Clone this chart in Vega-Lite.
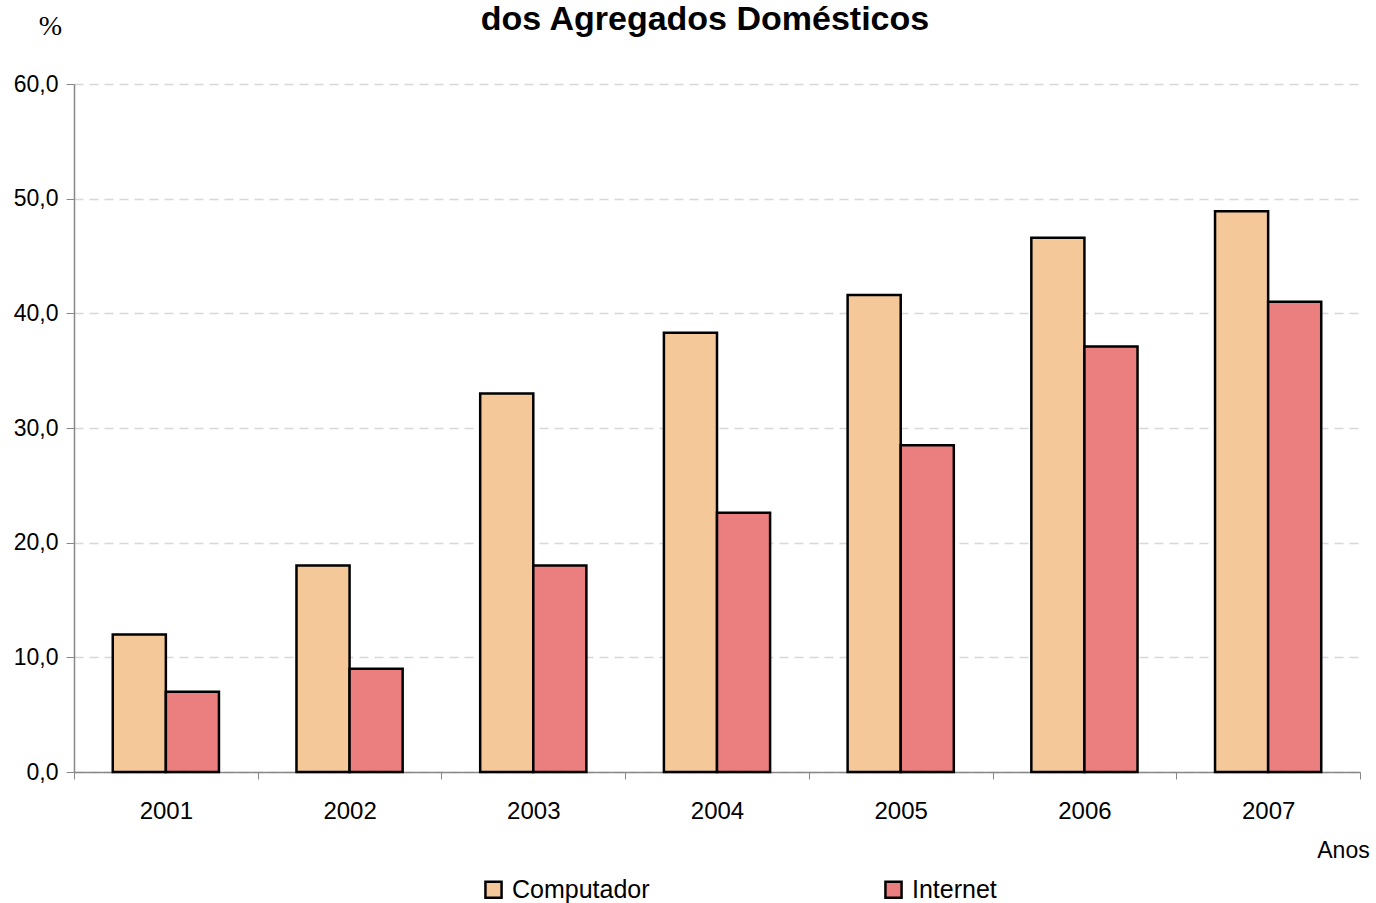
{
  "$schema": "https://vega.github.io/schema/vega-lite/v6.json",
  "autosize": {"type": "none"},
  "width": 1286,
  "height": 688,
  "padding": {"left": 74, "top": 84, "right": 16, "bottom": 131},
  "background": "white",
  "title": {
    "text": "dos Agregados Domésticos",
    "font": "Liberation Sans",
    "fontSize": 34,
    "fontWeight": "bold",
    "color": "#000000",
    "anchor": "middle",
    "baseline": "alphabetic",
    "offset": 0,
    "dy": 52,
    "dx": -12
  },
  "data": {
    "values": [
      {"ano": "2001", "serie": "Computador", "valor": 12.0},
      {"ano": "2001", "serie": "Internet", "valor": 7.0},
      {"ano": "2002", "serie": "Computador", "valor": 18.0},
      {"ano": "2002", "serie": "Internet", "valor": 9.0},
      {"ano": "2003", "serie": "Computador", "valor": 33.0},
      {"ano": "2003", "serie": "Internet", "valor": 18.0},
      {"ano": "2004", "serie": "Computador", "valor": 38.3},
      {"ano": "2004", "serie": "Internet", "valor": 22.6},
      {"ano": "2005", "serie": "Computador", "valor": 41.6},
      {"ano": "2005", "serie": "Internet", "valor": 28.5},
      {"ano": "2006", "serie": "Computador", "valor": 46.6},
      {"ano": "2006", "serie": "Internet", "valor": 37.1},
      {"ano": "2007", "serie": "Computador", "valor": 48.9},
      {"ano": "2007", "serie": "Internet", "valor": 41.0}
    ]
  },
  "mark": {"type": "bar", "stroke": "#000000", "strokeWidth": 2.5, "opacity": 1},
  "encoding": {
    "x": {
      "field": "ano",
      "type": "nominal",
      "scale": {"paddingInner": 0, "paddingOuter": 0},
      "axis": {
        "title": "Anos",
        "titleFont": "Liberation Sans",
        "titleFontSize": 23,
        "titleFontWeight": "normal",
        "titleColor": "#000000",
        "titleX": 1269,
        "titleY": 78,
        "titleAlign": "center",
        "titleBaseline": "middle",
        "labelAngle": 0,
        "labelFont": "Liberation Sans Narrow, Liberation Sans",
        "labelFontSize": 24,
        "labelColor": "#000000",
        "labelPadding": 20,
        "tickBand": "extent",
        "tickSize": 7,
        "tickColor": "#888888",
        "domainColor": "#888888",
        "domainWidth": 1.5,
        "grid": false
      }
    },
    "xOffset": {
      "field": "serie",
      "scale": {"paddingInner": 0, "paddingOuter": 0.73}
    },
    "y": {
      "field": "valor",
      "type": "quantitative",
      "scale": {"domain": [0, 60], "nice": false},
      "axis": {
        "values": [0, 10, 20, 30, 40, 50, 60],
        "labelExpr": "replace(format(datum.value, '.1f'), '.', ',')",
        "labelFont": "Liberation Sans Narrow, Liberation Sans",
        "labelFontSize": 23,
        "labelColor": "#000000",
        "labelPadding": 8,
        "tickSize": 8,
        "tickColor": "#888888",
        "domainColor": "#888888",
        "domainWidth": 1.5,
        "grid": true,
        "gridColor": "#d8d8d8",
        "gridDash": [9, 6],
        "gridWidth": 1.5,
        "title": "%",
        "titleFont": "Liberation Serif",
        "titleFontSize": 28,
        "titleFontWeight": "normal",
        "titleColor": "#000000",
        "titleAngle": 0,
        "titleX": -24,
        "titleY": -58,
        "titleAlign": "center",
        "titleBaseline": "middle"
      }
    },
    "color": {
      "field": "serie",
      "type": "nominal",
      "scale": {"domain": ["Computador", "Internet"], "range": ["#F5C89A", "#EB7E7E"]},
      "legend": {
        "title": null,
        "orient": "none",
        "legendX": 407,
        "legendY": 793,
        "direction": "horizontal",
        "symbolType": "square",
        "symbolSize": 260,
        "symbolStrokeColor": "#000000",
        "symbolStrokeWidth": 2.5,
        "symbolOpacity": 1,
        "labelFont": "Liberation Sans",
        "labelFontSize": 25,
        "labelColor": "#000000",
        "labelOffset": 6,
        "columnPadding": 230
      }
    }
  },
  "config": {"view": {"stroke": null}}
}
